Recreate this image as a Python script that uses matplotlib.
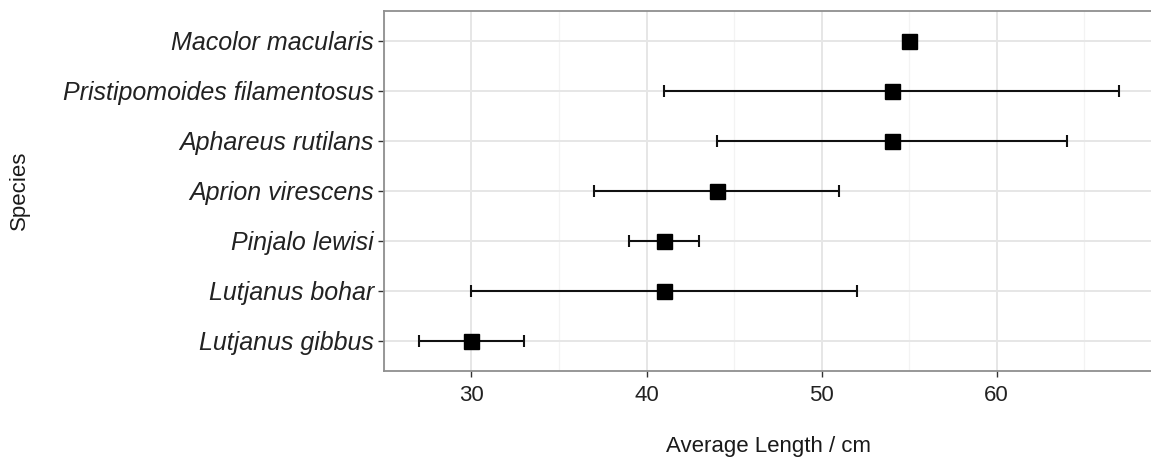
import matplotlib
matplotlib.use("Agg")
import matplotlib.pyplot as plt
import numpy as np

# =========================
# 1. Data
# =========================

species = [
    "Lutjanus gibbus",
    "Lutjanus bohar",
    "Pinjalo lewisi",
    "Aprion virescens",
    "Aphareus rutilans",
    "Pristipomoides filamentosus",
    "Macolor macularis",
]
mean_length = [30, 41, 41, 44, 54, 54, 55]
low_length = [27, 30, 39, 37, 44, 41, 55]
high_length = [33, 52, 43, 51, 64, 67, 55]

x_ticks = [30, 40, 50, 60]
x_minor = [25, 35, 45, 55, 65]


# =========================
# 2. Figure
# =========================

plt.rcParams["font.family"] = ["Liberation Sans", "DejaVu Sans"]

W, H = 1151, 466
fig = plt.figure(figsize=(W / 100, H / 100), dpi=100)
# panel runs slightly past the right edge, as in the original
ax = fig.add_axes([384 / W, (H - 370.7) / H, 770 / W, 360 / H])

y = np.arange(1, len(species) + 1)
mean = np.array(mean_length)
err = [mean - np.array(low_length), np.array(high_length) - mean]

ax.errorbar(
    mean, y, xerr=err, fmt="none",
    ecolor="#111111", elinewidth=1.5, capsize=4.6, capthick=1.5, zorder=3,
)
ax.plot(mean, y, "s", color="black", markersize=10.8, zorder=4)

# ggplot-like expansion
lo, hi = min(low_length), max(high_length)
pad = 0.05 * (hi - lo)
ax.set_xlim(lo - pad, hi + pad)
ax.set_ylim(0.4, len(species) + 0.6)


# =========================
# 3. Styling (theme_bw look)
# =========================

ax.set_xticks(x_ticks)
ax.set_xticks(x_minor, minor=True)
ax.set_yticks(y)
ax.set_yticklabels(species, fontstyle="italic")

ax.grid(which="major", color="#e6e6e6", linewidth=1.4, zorder=0)
ax.grid(which="minor", axis="x", color="#f3f3f3", linewidth=0.9, zorder=0)
ax.set_axisbelow(True)

for s in ax.spines.values():
    s.set_color("#8f8f8f")
    s.set_linewidth(1.3)

ax.tick_params(axis="both", which="major", length=4.2, width=1.0,
               color="#333333", labelcolor="#222222")
ax.tick_params(axis="x", which="major", labelsize=16, pad=6)
ax.tick_params(axis="y", which="major", labelsize=18, pad=3)
ax.tick_params(which="minor", length=0)

ax.set_xlabel("Average Length / cm", fontsize=16, color="#1a1a1a", labelpad=22)
fig.text(19 / W, 0.5 * ((H - 370.7) / H + (H - 10.7) / H), "Species",
         rotation=90, fontsize=16, color="#1a1a1a", ha="center", va="center")

fig.savefig("out.png", dpi=100)
